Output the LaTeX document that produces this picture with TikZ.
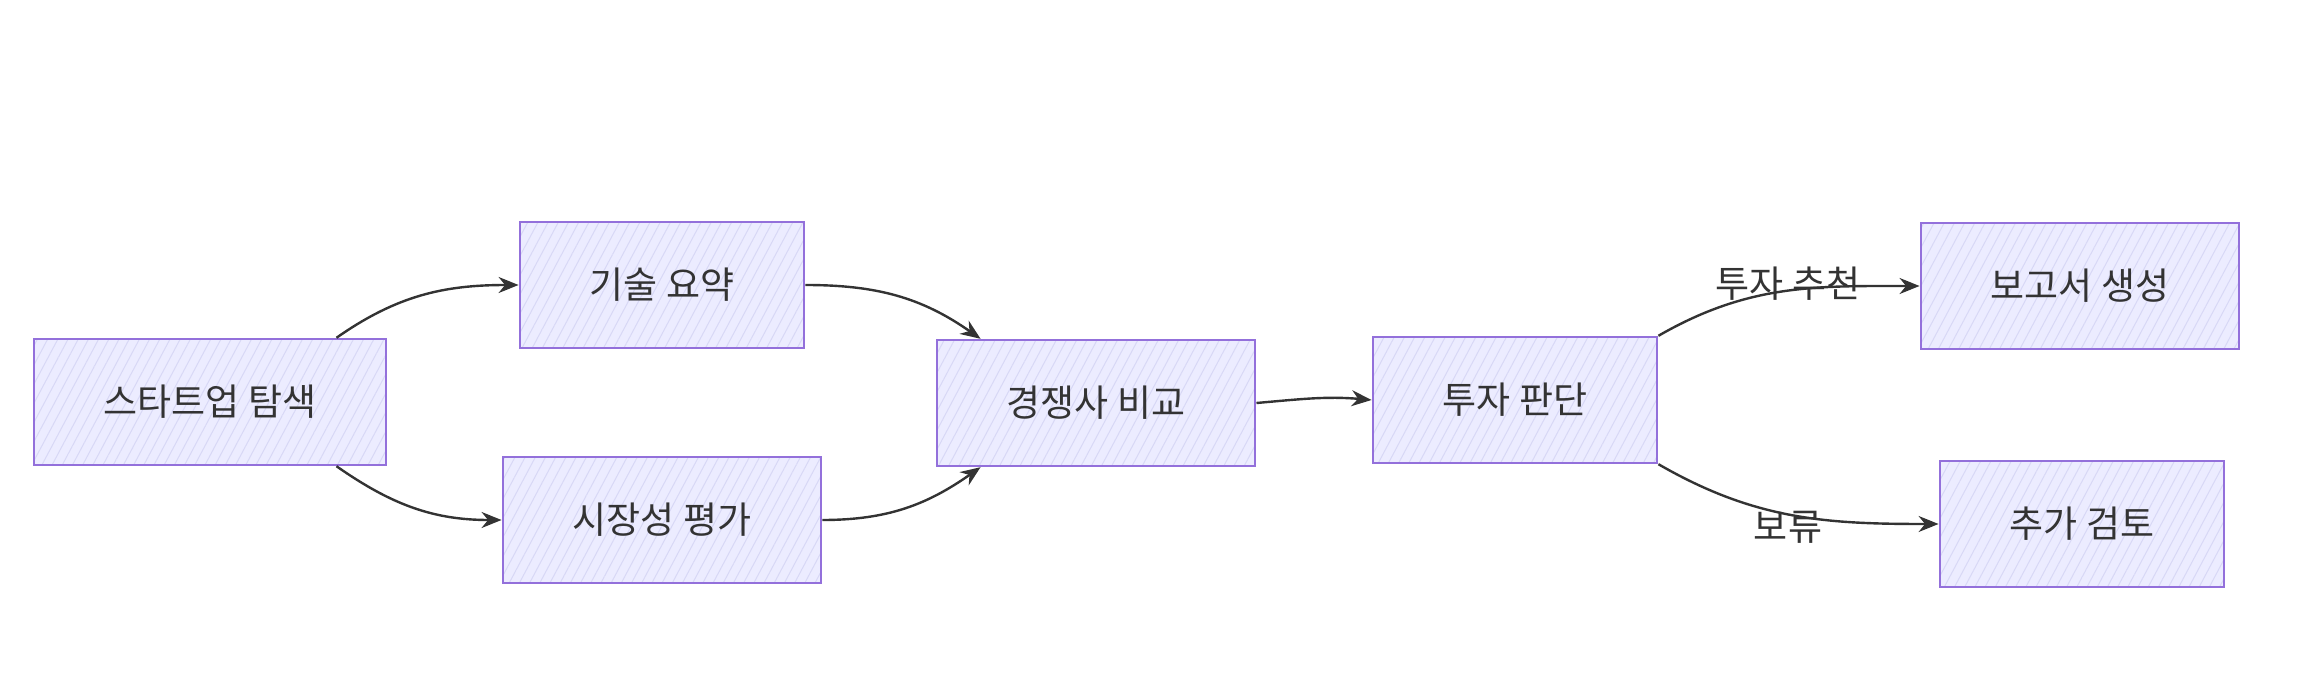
\documentclass[tikz,border=0pt]{standalone}
\usepackage{fontspec}
\setmainfont{Noto Sans CJK KR}
\usetikzlibrary{arrows.meta,patterns.meta}
\definecolor{boxfill}{HTML}{ECECFF}
\definecolor{boxline}{HTML}{9370DB}
\definecolor{hatch}{HTML}{D8D8F6}
\definecolor{ink}{HTML}{333333}
\begin{document}
\begin{tikzpicture}
	[x=1pt,y=1pt,
	every node/.style={font=\fontsize{37}{40}\selectfont,text=ink},
	box/.style={draw=boxline,line width=2.4pt,
		preaction={fill=boxfill},
		preaction={pattern={Lines[angle=62,distance=9pt,line width=1pt]},pattern color=hatch},
		minimum height=126pt,inner xsep=70pt},
	flow/.style={draw=ink,line width=2.4pt,-{Stealth[length=20pt,width=16pt]}},
	edgelabel/.style={inner sep=0pt}]
	\useasboundingbox (0,0) rectangle (2321,678);
	% nodes
	\node[box] (start) at (210,276) {스타트업 탐색};
	\node[box] (tech) at (662,393) {기술 요약};
	\node[box] (market) at (662,158) {시장성 평가};
	\node[box] (comp) at (1096,275) {경쟁사 비교};
	\node[box] (decide) at (1515,278) {투자 판단};
	\node[box] (report) at (2080,392) {보고서 생성};
	\node[box] (review) at (2082,154) {추가 검토};
	% edges
	\draw[flow] ([xshift=-51pt]start.north east) to[out=35,in=180] (tech.west);
	\draw[flow] ([xshift=-51pt]start.south east) to[out=-35,in=180] (market.west);
	\draw[flow] (tech.east) to[out=0,in=145] ([xshift=45pt]comp.north west);
	\draw[flow] (market.east) to[out=0,in=215] ([xshift=45pt]comp.south west);
	\draw[flow] (comp.east) to[out=5,in=175] (decide.west);
	\draw[flow] (decide.north east) to[out=30,in=180] (report.west);
	\draw[flow] (decide.south east) to[out=-30,in=180] (review.west);
	% edge labels
	\node[edgelabel] (lblrec) at (1788,394) {투자 추천};
	\node[edgelabel] (lblhold) at (1788,151) {보류};
\end{tikzpicture}
\end{document}
